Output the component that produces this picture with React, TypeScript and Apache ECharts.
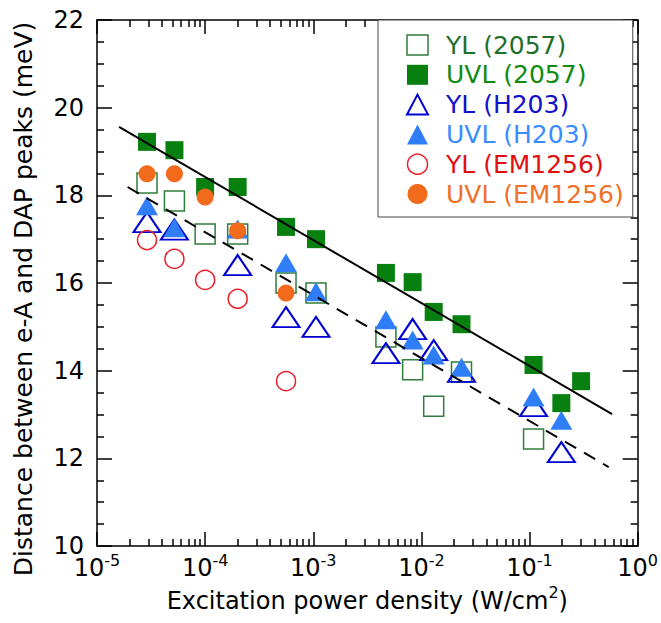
import React, { useEffect, useRef } from "react";
import * as echarts from "echarts";

const FONT = "'DejaVu Sans', 'Liberation Sans', Arial, sans-serif";

const seriesNames = ["YL (2057)", "UVL (2057)", "YL (H203)", "UVL (H203)", "YL (EM1256)", "UVL (EM1256)"];

const yl2057: [number, number][] = [
  [2.9e-5, 18.28], [5.2e-5, 17.87], [1e-4, 17.12], [2e-4, 17.12], [5.6e-4, 16.0],
  [1.06e-3, 15.77], [4.7e-3, 14.77], [8.3e-3, 14.02], [1.3e-2, 13.19], [2.35e-2, 13.97], [0.109, 12.44],
];
const uvl2057: [number, number][] = [
  [2.9e-5, 19.22], [5.2e-5, 19.03], [1e-4, 18.19], [2e-4, 18.19], [5.6e-4, 17.28],
  [1.06e-3, 17.0], [4.7e-3, 16.23], [8.3e-3, 16.02], [1.3e-2, 15.34], [2.35e-2, 15.06],
  [0.109, 14.13], [0.197, 13.26], [0.3, 13.76],
];
const ylH203: [number, number][] = [
  [2.9e-5, 17.39], [5.2e-5, 17.22], [2e-4, 16.41], [5.6e-4, 15.22], [1.06e-3, 15.0],
  [4.7e-3, 14.4], [8.3e-3, 14.95], [1.3e-2, 14.47], [2.35e-2, 13.97], [0.109, 13.19], [0.197, 12.14],
];
const uvlH203: [number, number][] = [
  [2.9e-5, 17.76], [5.2e-5, 17.26], [2e-4, 17.23], [5.6e-4, 16.46], [1.06e-3, 15.8],
  [4.7e-3, 15.16], [8.3e-3, 14.7], [1.3e-2, 14.36], [2.35e-2, 14.08], [0.109, 13.4], [0.197, 12.87],
];
const ylEM1256: [number, number][] = [
  [2.9e-5, 16.98], [5.2e-5, 16.55], [1e-4, 16.07], [2e-4, 15.64], [5.6e-4, 13.76],
];
const uvlEM1256: [number, number][] = [
  [2.9e-5, 18.49], [5.2e-5, 18.49], [1e-4, 17.96], [2e-4, 17.19], [5.6e-4, 15.77],
];
const fitUVL: [number, number][] = [[1.6e-5, 19.56], [0.58, 13.01]];
const fitYL: [number, number][] = [[1.92e-5, 18.19], [0.54, 11.8]];

const xMinorTicks: number[] = [];
for (let d = -5; d <= -1; d++) {
  for (let k = 2; k <= 9; k++) xMinorTicks.push(Number((k * Math.pow(10, d)).toPrecision(3)));
}

const colors = {
  openGreen: "#2f7d3a",
  filledGreen: "#07800f",
  openBlue: "#0000d2",
  filledBlue: "#2f7ef8",
  openRed: "#e8202a",
  orange: "#f26a1c",
};
const legendTextColors = ["#1f6f2a", "#118a11", "#1010c8", "#3b8cff", "#e01010", "#f07028"];

export default function App() {
  const ref = useRef<HTMLDivElement>(null);
  useEffect(() => {
    if (!ref.current) return;
    const chart = echarts.init(ref.current, undefined, { renderer: "svg" });
    const axisLine = { show: true, lineStyle: { color: "#000", width: 1.5 } };
    const tickLine = { color: "#000", width: 1.5 };
    const xBase = { type: "log", logBase: 10, min: 1e-5, max: 1, splitLine: { show: false } };
    const yBase = { type: "value", min: 10, max: 22, interval: 2, splitLine: { show: false } };
    const clear = "rgba(255,255,255,0)";

    const mk = (name: string, data: [number, number][], symbol: string, size: any, itemStyle: any) => ({
      name, type: "scatter", data, symbol, symbolSize: size,
      itemStyle: { opacity: 1, ...itemStyle }, xAxisIndex: 0, yAxisIndex: 0,
    });

    const legendStyles = [
      { color: clear, borderColor: colors.openGreen, borderWidth: 1.5, opacity: 1 },
      { color: colors.filledGreen, borderWidth: 0, opacity: 1 },
      { color: clear, borderColor: colors.openBlue, borderWidth: 2, opacity: 1 },
      { color: colors.filledBlue, borderWidth: 0, opacity: 1 },
      { color: clear, borderColor: colors.openRed, borderWidth: 1.5, opacity: 1 },
      { color: colors.orange, borderWidth: 0, opacity: 1 },
    ];
    const legendIcons = ["rect", "rect", "triangle", "triangle", "circle", "circle"];

    const supRich = (size: number) => ({
      b: { fontSize: size, lineHeight: size, verticalAlign: "bottom", fontFamily: FONT, color: "#000" },
      s: { fontSize: 16, lineHeight: 16, verticalAlign: "bottom", padding: [0, 0, 12, 0], fontFamily: FONT, color: "#000" },
    });

    chart.setOption({
      animation: false,
      backgroundColor: "#fff",
      textStyle: { fontFamily: FONT },
      grid: { left: 97, right: 19, top: 20, bottom: 77 },
      legend: {
        orient: "vertical",
        left: 378,
        top: 20,
        itemWidth: 21,
        itemHeight: 20,
        itemGap: 3.8,
        padding: [12, 9, 10, 28],
        borderColor: "#444",
        borderWidth: 1,
        backgroundColor: "#fff",
        textStyle: { fontSize: 25, lineHeight: 26, fontFamily: FONT, padding: [0, 0, 0, 13] },
        data: seriesNames.map((n, i) => ({
          name: n,
          icon: legendIcons[i],
          itemStyle: legendStyles[i],
          textStyle: { color: legendTextColors[i] },
        })),
      },
      xAxis: [
        {
          ...xBase, position: "bottom", axisLine,
          axisTick: { show: true, inside: true, length: 14, lineStyle: tickLine },
          axisLabel: {
            margin: 10, color: "#000",
            formatter: (v: number) => `{b|10}{s|${Math.round(Math.log10(v))}}`,
            rich: supRich(24),
          },
          name: "{b|Excitation power density (W/cm}{s|2}{b|)}",
          nameLocation: "middle",
          nameGap: 37,
          nameTextStyle: { rich: supRich(24) },
        },
        {
          ...xBase, position: "bottom", axisLine: { show: false },
          axisTick: { show: true, inside: true, length: 7, lineStyle: tickLine, customValues: xMinorTicks },
          axisLabel: { show: false },
        },
        {
          ...xBase, position: "top", axisLine,
          axisTick: { show: true, inside: true, length: 14, lineStyle: tickLine },
          axisLabel: { show: false },
        },
        {
          ...xBase, position: "top", axisLine: { show: false },
          axisTick: { show: true, inside: true, length: 7, lineStyle: tickLine, customValues: xMinorTicks },
          axisLabel: { show: false },
        },
      ],
      yAxis: [
        {
          ...yBase, position: "left", axisLine,
          axisTick: { show: true, inside: true, length: 15, lineStyle: tickLine },
          minorTick: { show: true, splitNumber: 4, length: 7, lineStyle: tickLine },
          axisLabel: { fontSize: 24, margin: 13, color: "#000", fontFamily: FONT },
        },
        {
          ...yBase, position: "right", axisLine,
          axisTick: { show: true, inside: true, length: 15, lineStyle: tickLine },
          minorTick: { show: true, splitNumber: 4, length: 7, lineStyle: tickLine },
          axisLabel: { show: false },
        },
      ],
      graphic: [
        {
          type: "text",
          x: 23,
          y: 299,
          rotation: Math.PI / 2,
          style: {
            text: "Distance between e-A and DAP peaks (meV)",
            fontSize: 25,
            fontFamily: FONT,
            fill: "#000",
            textAlign: "center",
            textVerticalAlign: "middle",
          },
        },
      ],
      series: [
        mk(seriesNames[0], yl2057, "rect", 20, { color: clear, borderColor: colors.openGreen, borderWidth: 1.5 }),
        mk(seriesNames[1], uvl2057, "rect", 18, { color: colors.filledGreen }),
        mk(seriesNames[2], ylH203, "triangle", [27, 20], { color: clear, borderColor: colors.openBlue, borderWidth: 2 }),
        mk(seriesNames[3], uvlH203, "triangle", [22, 19], { color: colors.filledBlue }),
        mk(seriesNames[4], ylEM1256, "circle", 19, { color: clear, borderColor: colors.openRed, borderWidth: 1.5 }),
        mk(seriesNames[5], uvlEM1256, "circle", 17, { color: colors.orange }),
        {
          name: "fit UVL", type: "line", data: fitUVL, symbol: "none", z: 5,
          lineStyle: { color: "#000", width: 2 }, xAxisIndex: 0, yAxisIndex: 0,
        },
        {
          name: "fit YL", type: "line", data: fitYL, symbol: "none", z: 5,
          lineStyle: { color: "#000", width: 2, type: [13, 9] }, xAxisIndex: 0, yAxisIndex: 0,
        },
      ],
    });
    return () => chart.dispose();
  }, []);
  return <div ref={ref} style={{ position: "fixed", left: 0, top: 0, width: 661, height: 623 }} />;
}
